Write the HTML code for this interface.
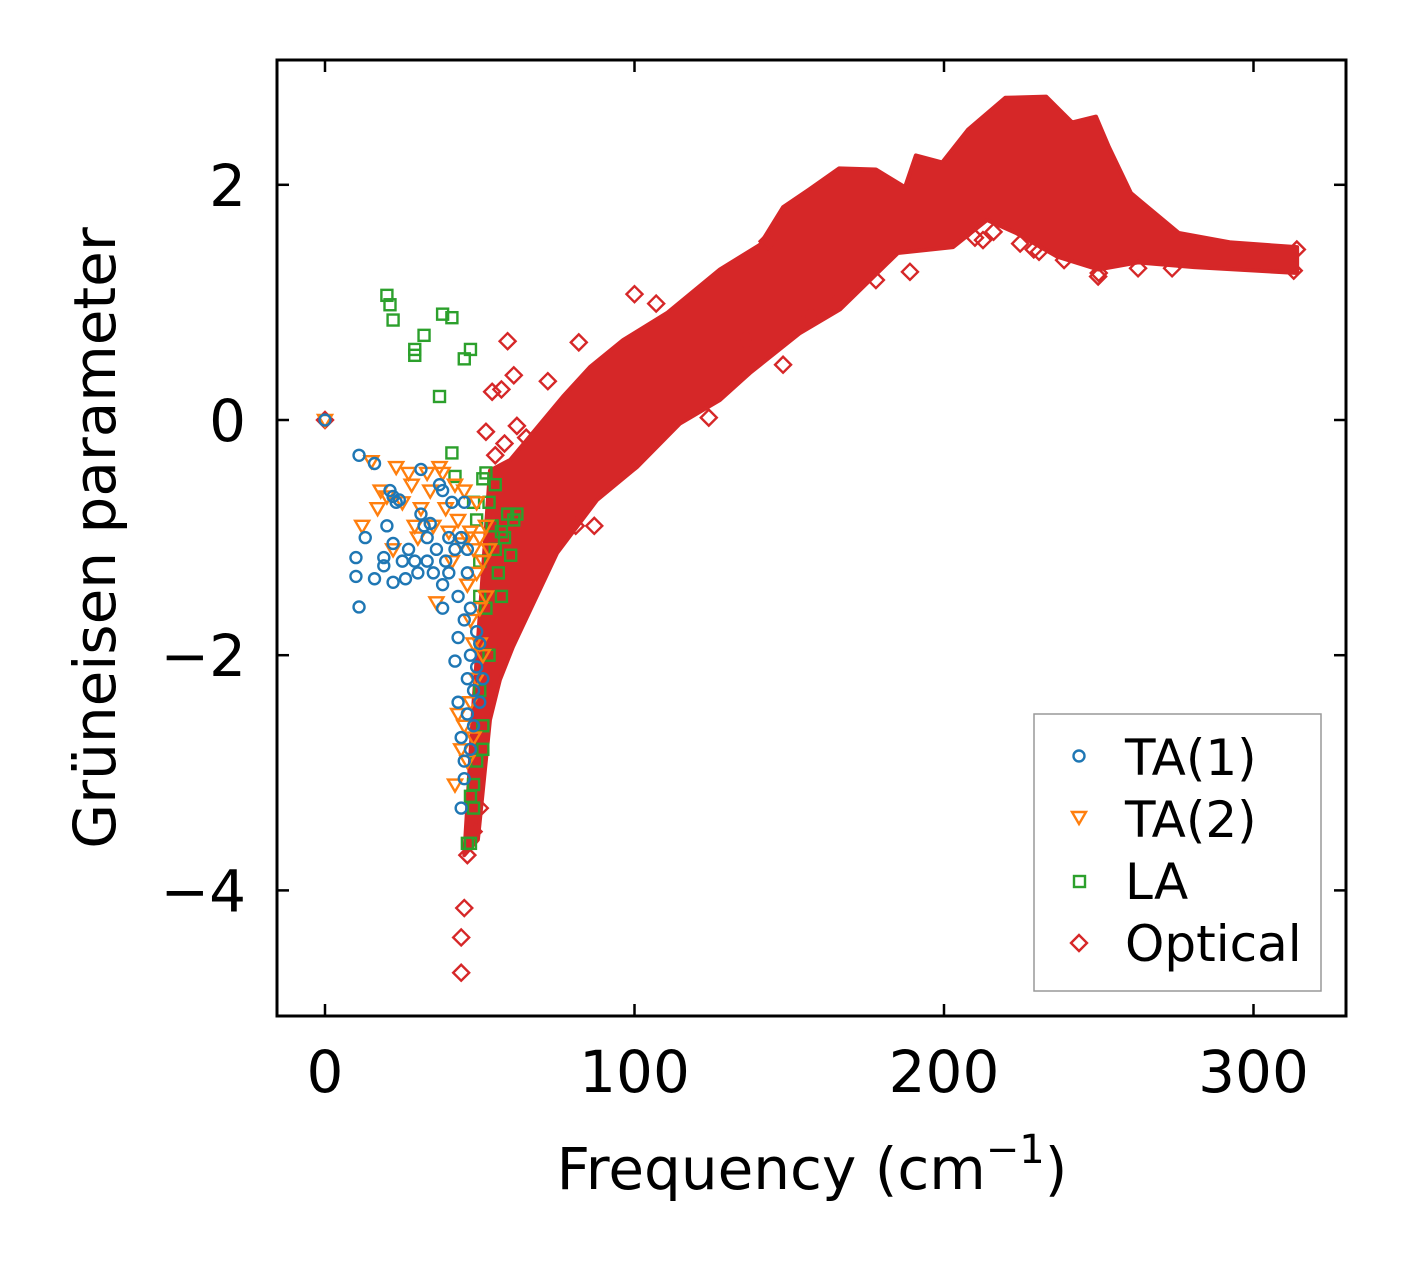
<!DOCTYPE html>
<html><head><meta charset="utf-8">
<style>
html,body{margin:0;padding:0;background:#fff;}
svg{display:block;font-family:"DejaVu Sans","Liberation Sans",sans-serif;}
</style></head>
<body>
<svg id="chart" width="1406" height="1264" viewBox="0 0 1406 1264" xmlns="http://www.w3.org/2000/svg">
<rect width="1406" height="1264" fill="#fff"/>
<g id="plot"></g>
<rect x="277" y="60" width="1069" height="956" fill="none" stroke="#000" stroke-width="3"/>
<g id="ticks"></g>
<text x="812" y="1189" font-size="58" text-anchor="middle">Frequency (cm<tspan dy="-26" font-size="40">−1</tspan><tspan dy="26">)</tspan></text>
<text transform="translate(115,538) rotate(-90)" font-size="58" text-anchor="middle">Grüneisen parameter</text>
<g>
<rect x="1034" y="714" width="287" height="277" fill="#fff" stroke="#999" stroke-width="1.5"/>
<circle cx="1079" cy="756" r="5.5" fill="none" stroke="#1f77b4" stroke-width="2.4"/>
<text x="1125" y="775" font-size="50">TA(1)</text>
<path d="M1072,812 L1086,812 L1079,824 Z" fill="none" stroke="#ff7f0e" stroke-width="2.4"/>
<text x="1125" y="837" font-size="50">TA(2)</text>
<rect x="1074" y="876" width="11" height="11" fill="none" stroke="#2ca02c" stroke-width="2.4"/>
<text x="1125" y="899" font-size="50">LA</text>
<path d="M1079,935 L1087,943 L1079,951 L1071,943 Z" fill="none" stroke="#d62728" stroke-width="2.4"/>
<text x="1125" y="961" font-size="50">Optical</text>
</g>
</svg>
<script>
const xTicks = [0, 100, 200, 300];
const yTicks = [-4, -2, 0, 2];
const yTickLabels = ["−4", "−2", "0", "2"];
// Optical dense band envelope
const bandUpperX = [45,48,53.3,59.8,76.9,85.6,96.3,110.5,127.6,140.5,148,156.4,166.1,178,187.4,190.9,199.4,207.8,219.8,233,241.4,249.1,253.3,260.4,264,275.9,292.7,314.1];
const bandUpperY = [-3.7,-2.4,-0.43,-0.34,0.2,0.45,0.68,0.91,1.28,1.49,1.81,1.96,2.14,2.13,1.98,2.25,2.19,2.47,2.74,2.75,2.53,2.58,2.32,1.93,1.85,1.59,1.51,1.47];
const bandLowerX = [45,49.4,53.3,56.5,60.7,75,87.9,100.8,114.7,127.6,137.3,153.5,166.4,185.1,202.9,213.9,223.3,236.5,249.8,262.7,280.8,314.1];
const bandLowerY = [-3.7,-3.57,-2.55,-2.21,-1.93,-1.13,-0.68,-0.4,-0.03,0.17,0.4,0.74,0.94,1.42,1.47,1.7,1.59,1.39,1.28,1.34,1.3,1.25];
const opticalX = [0,59,82,54,57,61,72,45,44,44,46,100,107,143,148,136,87,81,189,210,216,229,250,313,314,124,212.6,224.6,230.7,238.8,249.8,262.7,273.7,164,157,178,52,55,58,62,65,50,48];
const opticalY = [0,0.67,0.66,0.24,0.26,0.38,0.33,-4.15,-4.4,-4.7,-3.7,1.07,0.99,1.52,0.47,0.68,-0.9,-0.9,1.26,1.55,1.6,1.45,1.25,1.27,1.45,0.02,1.53,1.5,1.43,1.36,1.22,1.29,1.29,0.99,0.88,1.19,-0.1,-0.3,-0.2,-0.05,-0.15,-3.3,-3.5];
const ta1X = [0,11,16,13,10,10,11,16,19,19,20,21,22,23,24,22,22,25,26,27,29,30,31,31,32,33,33,34,35,36,37,38,38,38,39,40,40,41,42,42,43,43,43,44,44,45,45,45,46,46,46,47,47,47,48,48,49,49,50,50,51,46,44,45];
const ta1Y = [0,-0.3,-0.37,-1,-1.17,-1.33,-1.59,-1.35,-1.17,-1.24,-0.9,-0.6,-0.65,-0.7,-0.68,-1.05,-1.38,-1.2,-1.35,-1.1,-1.2,-1.3,-0.42,-0.8,-0.9,-1.0,-1.2,-0.88,-1.3,-1.1,-0.55,-0.6,-1.4,-1.6,-1.2,-1.3,-1.0,-0.7,-1.1,-2.05,-1.5,-1.85,-2.4,-2.7,-3.3,-2.9,-3.05,-1.7,-2.2,-2.5,-1.3,-2.8,-2.0,-1.6,-2.3,-2.6,-1.8,-2.1,-2.4,-1.9,-2.2,-1.1,-1.0,-0.7];
const ta2X = [0,12,15,17,18,20,22,23,25,27,28,29,30,31,33,34,35,36,37,38,39,40,41,42,43,44,45,46,46,47,47,48,48,49,49,50,50,51,52,52,53,42,43,44,45,46,47,48,49,50,51];
const ta2Y = [0,-0.9,-0.35,-0.75,-0.6,-0.65,-1.1,-0.4,-0.7,-0.45,-0.55,-0.9,-1.0,-0.75,-0.45,-0.6,-0.9,-1.55,-0.4,-0.45,-0.75,-0.95,-1.2,-0.55,-0.85,-1.05,-0.6,-1.0,-1.4,-1.7,-0.95,-1.1,-1.9,-0.7,-1.3,-1.0,-1.6,-1.2,-0.9,-1.5,-1.1,-3.1,-2.5,-2.8,-2.6,-2.9,-2.4,-2.7,-2.2,-1.9,-2.0];
const laX = [20,21,22,29,29,32,37,38,41,45,47,41,42,48,49,50,51,52,53,54,55,56,57,58,59,60,61,62,52,53,50,51,49,48,47,48,46,47,51,50,55,57];
const laY = [1.06,0.98,0.85,0.6,0.55,0.72,0.2,0.9,0.87,0.52,0.6,-0.28,-0.48,-0.7,-0.85,-1.2,-0.5,-0.45,-0.7,-0.9,-1.1,-1.3,-1.5,-1.0,-0.8,-1.15,-0.85,-0.8,-1.6,-2.0,-2.3,-2.6,-2.9,-3.1,-3.2,-3.3,-3.6,-3.6,-2.8,-1.5,-0.55,-0.95];

const X0 = 325, XS = 3.095, Y0 = 420, YS = 117.6;
function xPx(v){ return X0 + v * XS; }
function yPx(v){ return Y0 - v * YS; }
const NS = "http://www.w3.org/2000/svg";
const plot = document.getElementById("plot");
const ticks = document.getElementById("ticks");
function mk(tag, attrs, parent){
  const e = document.createElementNS(NS, tag);
  for (const k in attrs) e.setAttribute(k, attrs[k]);
  parent.appendChild(e);
  return e;
}
let d = "";
for (let i = 0; i < bandUpperX.length; i++) d += (i ? "L" : "M") + xPx(bandUpperX[i]) + "," + yPx(bandUpperY[i]);
for (let i = bandLowerX.length - 1; i >= 0; i--) d += "L" + xPx(bandLowerX[i]) + "," + yPx(bandLowerY[i]);
d += "Z";
const band = mk("path", {d: d, fill: "#d62728", stroke: "#d62728", "stroke-width": 4, "stroke-linejoin": "round"}, plot);



function diamond(x, y){ return `M${x},${y-8} L${x+8},${y} L${x},${y+8} L${x-8},${y} Z`; }
for (let i = 0; i < opticalX.length; i++){
  const p = mk("path", {d: diamond(xPx(opticalX[i]), yPx(opticalY[i])), fill: "none", stroke: "#d62728", "stroke-width": 2.4}, plot);
  
  
}
for (let i = 0; i < laX.length; i++){
  const p = mk("rect", {x: xPx(laX[i]) - 5.5, y: yPx(laY[i]) - 5.5, width: 11, height: 11, fill: "none", stroke: "#2ca02c", "stroke-width": 2.4}, plot);
  
  
}
for (let i = 0; i < ta2X.length; i++){
  const x = xPx(ta2X[i]), y = yPx(ta2Y[i]);
  const p = mk("path", {d: `M${x-7},${y-5} L${x+7},${y-5} L${x},${y+7} Z`, fill: "none", stroke: "#ff7f0e", "stroke-width": 2.4}, plot);
  
  
}
for (let i = 0; i < ta1X.length; i++){
  const p = mk("circle", {cx: xPx(ta1X[i]), cy: yPx(ta1Y[i]), r: 5.5, fill: "none", stroke: "#1f77b4", "stroke-width": 2.4}, plot);
  
  
}
for (const v of xTicks){
  const x = xPx(v);
  const t1 = mk("line", {x1: x, x2: x, y1: 1016, y2: 1004, stroke: "#000", "stroke-width": 2.5}, ticks);
  
  
  const t2 = mk("line", {x1: x, x2: x, y1: 60, y2: 72, stroke: "#000", "stroke-width": 2.5}, ticks);
  
  
  const lb = mk("text", {x: x, y: 1092, "font-size": 58, "text-anchor": "middle"}, ticks);
  lb.textContent = String(v);
  
  
}
for (let i = 0; i < yTicks.length; i++){
  const y = yPx(yTicks[i]);
  const t1 = mk("line", {x1: 277, x2: 289, y1: y, y2: y, stroke: "#000", "stroke-width": 2.5}, ticks);
  
  
  const t2 = mk("line", {x1: 1346, x2: 1334, y1: y, y2: y, stroke: "#000", "stroke-width": 2.5}, ticks);
  
  
  const lb = mk("text", {x: 246, y: y + 21, "font-size": 58, "text-anchor": "end"}, ticks);
  lb.textContent = yTickLabels[i];
  
  
}
</script>
</body></html>
